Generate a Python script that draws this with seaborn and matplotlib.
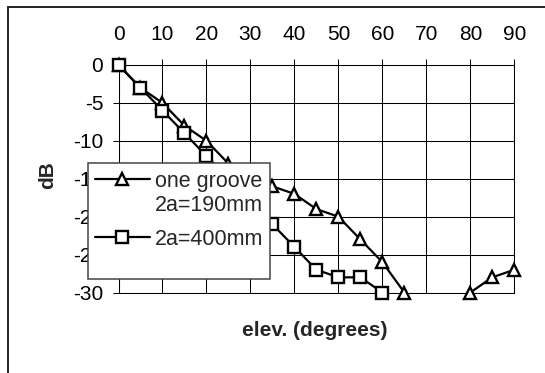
import numpy as np
import pandas as pd
import matplotlib
matplotlib.use("Agg")
import matplotlib.pyplot as plt
from matplotlib.lines import Line2D
from matplotlib.patches import Rectangle
import seaborn as sns

# ---- data ----
elev = [0, 5, 10, 15, 20, 25, 30, 35, 40, 45, 50, 55, 60, 65, 70, 75, 80, 85, 90]
one_groove_190 = [0, -3, -5, -8, -10, -13, -15, -16, -17, -19, -20, -23, -26, -30,
                  np.nan, np.nan, -30, -28, -27]
groove_400 = [0, -3, -6, -9, -12, -15, -18, -21, -24, -27, -28, -28, -30,
              np.nan, np.nan, np.nan, np.nan, np.nan, np.nan]
series_names = ["one groove 2a=190mm", "2a=400mm"]
xticks = [0, 10, 20, 30, 40, 50, 60, 70, 80, 90]
yticks = [0, -5, -10, -15, -20, -25, -30]
ytick_labels = ["0", "-5", "-10", "-15", "-20", "-25", "-30"]
xlabel = "elev. (degrees)"
ylabel = "dB"

sns.set_style("white")
plt.rcParams["font.family"] = ["Liberation Sans", "DejaVu Sans"]
plt.rcParams["font.size"] = 15

rows = []
for name, vals in zip(series_names, [one_groove_190, groove_400]):
    seg = 0
    prev_nan = False
    for x, y in zip(elev, vals):
        if np.isnan(y):
            prev_nan = True
            continue
        if prev_nan:
            seg += 1
            prev_nan = False
        rows.append({"elev": x, "dB": y, "series": name, "seg": f"{name}-{seg}"})
df = pd.DataFrame(rows)

fig = plt.figure(figsize=(5.45, 3.73), dpi=100)
ax = fig.add_axes([118.5 / 545, 1 - 292.5 / 373, 395.8 / 545, 227.5 / 373])

markers = {series_names[0]: "^", series_names[1]: "s"}
for name in series_names:
    sub = df[df["series"] == name]
    sns.lineplot(data=sub, x="elev", y="dB", units="seg", estimator=None,
                 marker=markers[name], color="black", linewidth=1.6,
                 markersize=9.3, markerfacecolor="white", markeredgecolor="black",
                 markeredgewidth=1.7, clip_on=False, ax=ax, legend=False, zorder=3)

ax.set_xlim(0, 90)
ax.set_ylim(-30, 0)
ax.set_xticks(xticks)
ax.set_yticks(yticks)
ax.set_yticklabels(ytick_labels)
ax.xaxis.tick_top()
ax.tick_params(axis="x", which="both", top=True, bottom=False, labeltop=True,
               labelbottom=False, direction="out", length=4.3, width=0.75,
               pad=10.5, colors="black", labelsize=15)
ax.tick_params(axis="y", direction="out", length=4.5, width=0.75, pad=6.5,
               colors="black", labelsize=15, left=True)
ax.grid(True, color="black", linewidth=0.75)
ax.set_axisbelow(True)
for s in ax.spines.values():
    s.set_color("black")
    s.set_linewidth(0.75)

ax.set_xlabel(xlabel, fontweight="bold", fontsize=15)
ax.xaxis.set_label_position("bottom")
ax.xaxis.set_label_coords((315 - 118.5) / 395.8, (292.5 - 330) / 227.5)
ax.xaxis.label.set_va("center")
ax.set_ylabel(ylabel, fontweight="bold", fontsize=15)
ax.yaxis.set_label_coords((48 - 118.5) / 395.8, (292.5 - 175) / 227.5)
ax.yaxis.label.set_va("center")

# legend frame
fig.patches.append(Rectangle((88 / 545, 1 - 279 / 373), 182 / 545, 116 / 373,
                             transform=fig.transFigure, facecolor="white",
                             edgecolor="#444444", linewidth=1.1, zorder=4))

h_tri = Line2D([], [], color="black", lw=1.6, marker="^", ms=9.3,
               mfc="white", mec="black", mew=1.7)
h_sq = Line2D([], [], color="black", lw=1.6, marker="s", ms=9.3,
              mfc="white", mec="black", mew=1.7)
h_blank = Line2D([], [], color="none")
leg_kw = dict(frameon=False, borderpad=0, borderaxespad=0, handlelength=2.55,
              handletextpad=0.22, fontsize=15.5, loc="center left")
legA = fig.legend([h_tri, h_blank], ["one groove", "2a=190mm"],
                  bbox_to_anchor=(95 / 545, 1 - 193.3 / 373), labelspacing=0.12,
                  **leg_kw)
legA.set_zorder(6)
legB = fig.legend([h_sq], ["2a=400mm"],
                  bbox_to_anchor=(95 / 545, 1 - 239.3 / 373), **leg_kw)
legB.set_zorder(6)

# figure border
fig.patches.append(Rectangle((8 / 545, -0.1), 1.2, 1.1 - 7.3 / 373,
                             transform=fig.transFigure, fill=False,
                             edgecolor="#222222", linewidth=1.4, zorder=7))

fig.savefig("out.png", dpi=100)
